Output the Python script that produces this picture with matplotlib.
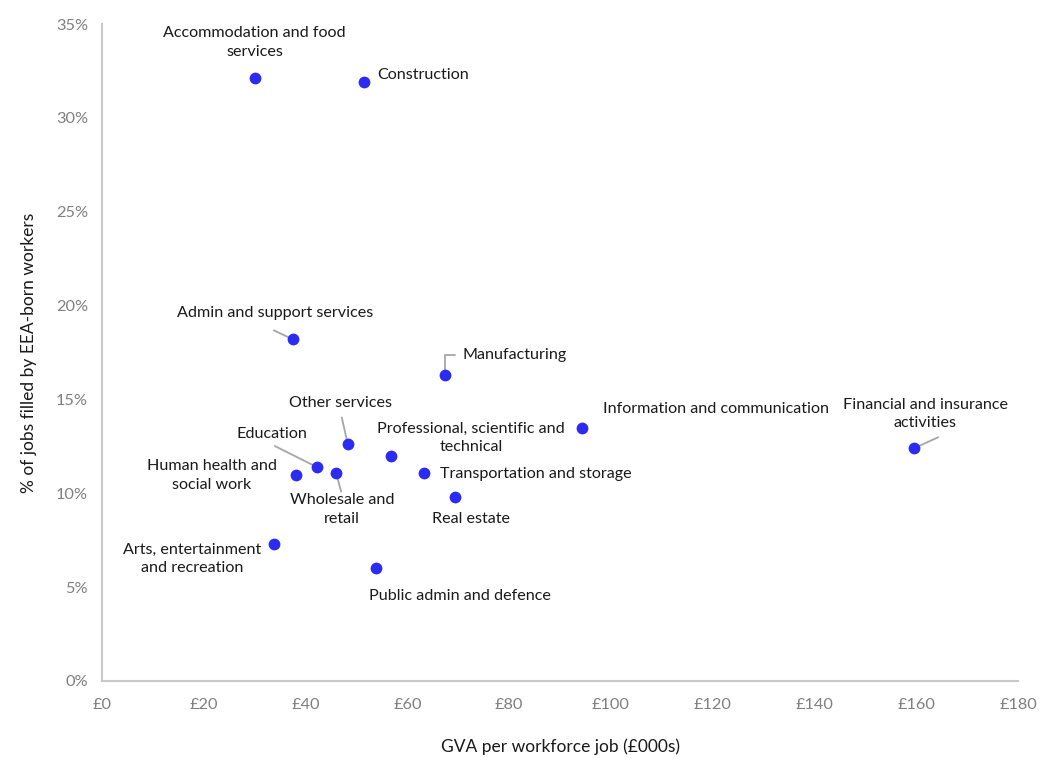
import matplotlib.pyplot as plt
from matplotlib.ticker import FuncFormatter

plt.rcParams['font.family'] = ['Lato', 'DejaVu Sans']

# GVA per workforce job (£000s) and share of jobs filled by EEA-born workers (%)
sectors = [
    "Accommodation and food\nservices",
    "Construction",
    "Admin and support services",
    "Manufacturing",
    "Information and communication",
    "Financial and insurance\nactivities",
    "Other services",
    "Professional, scientific and\ntechnical",
    "Education",
    "Wholesale and\nretail",
    "Human health and\nsocial work",
    "Transportation and storage",
    "Real estate",
    "Arts, entertainment\nand recreation",
    "Public admin and defence",
]
gva = [30.0, 51.5, 37.5, 67.4, 94.4, 159.6, 48.3, 56.8, 42.2, 46.0, 38.1, 63.2, 69.3, 33.8, 53.8]
eea_share = [32.1, 31.9, 18.2, 16.3, 13.5, 12.4, 12.6, 12.0, 11.4, 11.1, 11.0, 11.1, 9.8, 7.3, 6.0]

x_ticks = list(range(0, 181, 20))
y_ticks = list(range(0, 36, 5))

# label placement: (dx, dy) in pixels from the point, horizontal alignment
label_pos = {
    0: (0, 36, 'center'),
    1: (13, 7, 'left'),
    2: (-18, 26, 'center'),
    3: (17, 20, 'left'),
    4: (21, 19, 'left'),
    5: (11, 34, 'center'),
    6: (-7, 41, 'center'),
    7: (80, 18, 'center'),
    8: (-45, 33, 'center'),
    9: (6, -37, 'center'),
    10: (-84, -1, 'center'),
    11: (16, -1, 'left'),
    12: (16, -22, 'center'),
    13: (-82, -15, 'center'),
    14: (84, -28, 'center'),
}
# leader lines: start offset in pixels from the point
leaders = {2: (-19, 9), 5: (24, 11), 6: (-6, 27), 8: (-42, 21), 9: (5, -19)}

fig = plt.figure(figsize=(10.39, 7.58), dpi=100)
ax = fig.add_axes([0.0982, 0.1016, 0.8816, 0.8667])

grey = '#a6a6a6'
for i, (dx, dy) in leaders.items():
    ax.annotate('', xy=(gva[i], eea_share[i]), xytext=(dx, dy), textcoords='offset pixels',
                arrowprops=dict(arrowstyle='-', color=grey, lw=1.3, shrinkA=0, shrinkB=2))
ax.annotate('', xy=(gva[3], eea_share[3]), xytext=(10, 20), textcoords='offset pixels',
            arrowprops=dict(arrowstyle='-', color=grey, lw=1.3, shrinkA=0, shrinkB=3,
                            connectionstyle='angle,angleA=0,angleB=90,rad=0'))

ax.scatter(gva, eea_share, s=72, color='#2b2bf2', zorder=3, linewidths=0)

for i, name in enumerate(sectors):
    dx, dy, ha = label_pos[i]
    ax.annotate(name, xy=(gva[i], eea_share[i]), xytext=(dx, dy), textcoords='offset pixels',
                ha=ha, va='center', fontsize=11.6, color='#1a1a1a', linespacing=1.4,
                multialignment='center')

ax.set_xlim(0, 180)
ax.set_ylim(0, 35)
ax.set_xticks(x_ticks)
ax.set_yticks(y_ticks)
ax.xaxis.set_major_formatter(FuncFormatter(lambda v, p: f'£{v:.0f}'))
ax.yaxis.set_major_formatter(FuncFormatter(lambda v, p: f'{v:.0f}%'))
ax.tick_params(length=0, labelsize=11.8, labelcolor='#808080', pad=10)
ax.tick_params(axis='x', pad=12)
for side in ['top', 'right']:
    ax.spines[side].set_visible(False)
for side in ['left', 'bottom']:
    ax.spines[side].set_color('#c8c8c8')
    ax.spines[side].set_linewidth(1.5)

ax.set_xlabel('GVA per workforce job (£000s)', fontsize=12.5, color='#1a1a1a', labelpad=19)
ax.set_ylabel('% of jobs filled by EEA-born workers', fontsize=12.5, color='#1a1a1a', labelpad=14)

plt.savefig('out.png', dpi=100)
